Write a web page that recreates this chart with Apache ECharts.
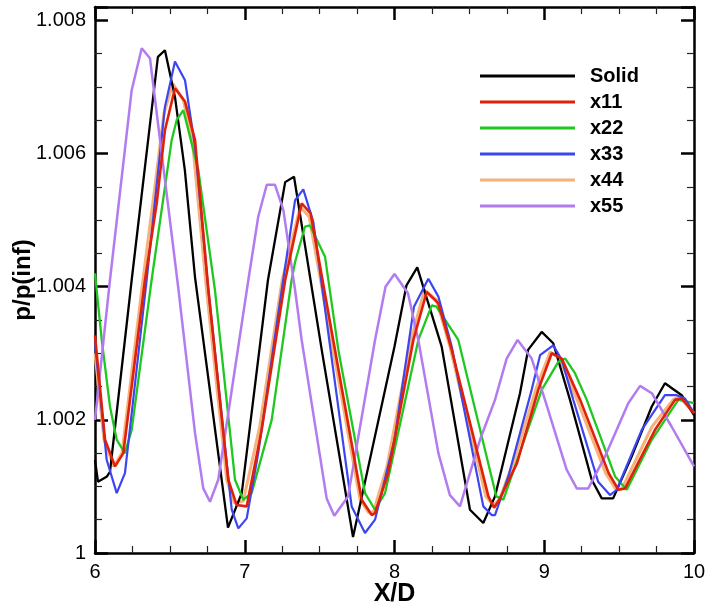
<!DOCTYPE html>
<html>
<head>
<meta charset="utf-8">
<script src="https://cdn.jsdelivr.net/npm/echarts@6/dist/echarts.min.js"></script>
<style>
html,body{margin:0;padding:0;background:#fff;}
#chart{width:708px;height:609px;}
</style>
</head>
<body>
<div id="chart"></div>
<script>
var seriesNames = ['Solid', 'x11', 'x22', 'x33', 'x44', 'x55'];
var xTicks = [6, 7, 8, 9, 10];
var yTicks = [1, 1.002, 1.004, 1.006, 1.008];

var solid = [[6.0,1.0014],[6.02,1.00107],[6.08,1.00115],[6.1,1.00122],[6.245,1.0041],[6.42,1.00745],[6.467,1.00755],[6.534,1.00685],[6.60,1.00575],[6.668,1.00414],[6.888,1.00038],[6.98,1.0009],[7.155,1.0041],[7.27,1.00557],[7.329,1.00565],[7.514,1.00305],[7.723,1.00024],[8.0,1.0031],[8.08,1.00402],[8.152,1.00429],[8.315,1.0031],[8.504,1.00065],[8.593,1.00045],[8.671,1.00085],[8.838,1.0024],[8.892,1.00305],[8.983,1.00332],[9.06,1.00315],[9.172,1.0023],[9.317,1.0011],[9.384,1.00082],[9.46,1.00082],[9.584,1.00145],[9.718,1.0022],[9.806,1.00255],[9.918,1.00237],[10.0,1.00207]];

var x11 = [[6.0,1.00327],[6.067,1.0017],[6.134,1.0013],[6.189,1.0015],[6.334,1.0041],[6.412,1.00525],[6.467,1.00635],[6.534,1.00698],[6.601,1.00678],[6.668,1.0062],[6.757,1.00395],[6.89,1.0011],[6.946,1.00072],[7.013,1.0007],[7.113,1.00185],[7.27,1.0041],[7.38,1.00525],[7.44,1.0051],[7.781,1.0008],[7.848,1.00057],[7.87,1.0006],[7.958,1.0012],[8.126,1.0032],[8.215,1.00392],[8.293,1.00375],[8.382,1.00305],[8.627,1.00085],[8.665,1.00068],[8.70,1.0008],[8.818,1.00135],[8.96,1.00245],[9.05,1.003],[9.117,1.00292],[9.24,1.0023],[9.43,1.0012],[9.495,1.00095],[9.54,1.00097],[9.74,1.00185],[9.873,1.0023],[9.918,1.00232],[10.0,1.0021]];

var x22 = [[6.0,1.0042],[6.045,1.0032],[6.1,1.0022],[6.145,1.0017],[6.2,1.0015],[6.245,1.00185],[6.378,1.0041],[6.512,1.0062],[6.545,1.0065],[6.59,1.00665],[6.69,1.00575],[6.801,1.00395],[6.935,1.0011],[6.99,1.0008],[7.046,1.0009],[7.18,1.002],[7.313,1.0041],[7.336,1.00437],[7.402,1.0049],[7.436,1.00492],[7.536,1.00445],[7.625,1.00305],[7.803,1.0009],[7.87,1.00065],[7.937,1.0009],[8.159,1.0032],[8.249,1.00372],[8.28,1.0037],[8.382,1.00335],[8.426,1.0032],[8.68,1.00085],[8.727,1.0008],[8.983,1.00245],[9.094,1.00287],[9.14,1.00292],[9.205,1.0027],[9.284,1.0023],[9.473,1.00115],[9.551,1.00095],[9.718,1.0017],[9.895,1.0023],[10.0,1.00225]];

var x33 = [[6.0,1.00315],[6.078,1.0014],[6.145,1.0009],[6.2,1.0012],[6.345,1.0041],[6.467,1.0067],[6.534,1.00738],[6.601,1.0071],[6.668,1.0061],[6.757,1.00395],[6.913,1.00065],[6.957,1.00037],[7.013,1.00052],[7.09,1.0015],[7.224,1.0036],[7.336,1.0053],[7.391,1.00546],[7.458,1.00497],[7.714,1.0007],[7.803,1.0003],[7.87,1.0005],[8.0,1.0017],[8.13,1.0037],[8.226,1.00412],[8.293,1.00385],[8.382,1.0031],[8.593,1.0007],[8.649,1.00057],[8.671,1.00057],[8.76,1.00115],[8.916,1.00245],[8.972,1.00297],[9.06,1.00312],[9.117,1.0029],[9.194,1.0023],[9.36,1.00107],[9.439,1.00087],[9.484,1.00095],[9.651,1.00185],[9.806,1.00237],[9.884,1.00237],[9.94,1.00232],[10.0,1.0021]];

var x44 = [[6.0,1.0030],[6.06,1.0017],[6.125,1.0013],[6.18,1.0015],[6.32,1.0041],[6.40,1.0055],[6.46,1.0066],[6.52,1.00705],[6.59,1.0068],[6.65,1.0062],[6.745,1.00395],[6.88,1.0011],[6.93,1.00075],[6.99,1.00078],[7.10,1.0019],[7.25,1.0041],[7.37,1.0052],[7.43,1.00505],[7.77,1.0008],[7.83,1.0006],[7.86,1.00062],[7.95,1.0013],[8.11,1.0032],[8.2,1.00395],[8.28,1.0038],[8.37,1.0031],[8.61,1.00085],[8.66,1.00072],[8.70,1.0008],[8.80,1.0014],[8.95,1.0025],[9.04,1.00302],[9.10,1.00293],[9.22,1.0023],[9.41,1.0012],[9.48,1.00095],[9.52,1.00097],[9.72,1.0019],[9.86,1.0023],[9.90,1.00235],[10.0,1.0021]];

var x55 = [[6.0,1.002],[6.1,1.0041],[6.245,1.00695],[6.312,1.00758],[6.367,1.00743],[6.555,1.004],[6.668,1.0018],[6.723,1.00097],[6.768,1.00077],[6.823,1.0011],[7.024,1.0041],[7.09,1.00505],[7.147,1.00553],[7.202,1.00553],[7.258,1.00515],[7.336,1.00395],[7.38,1.0032],[7.547,1.00082],[7.598,1.00056],[7.69,1.00085],[7.87,1.0032],[7.94,1.004],[8.0,1.00419],[8.09,1.0039],[8.159,1.0032],[8.293,1.0015],[8.37,1.00087],[8.437,1.0007],[8.571,1.0017],[8.671,1.0023],[8.749,1.00292],[8.822,1.0032],[8.916,1.00292],[9.005,1.0023],[9.15,1.00125],[9.217,1.00097],[9.294,1.00097],[9.406,1.00145],[9.561,1.00225],[9.64,1.00251],[9.718,1.0024],[9.85,1.0019],[10.0,1.0013]];

var seriesData = [solid, x11, x22, x33, x44, x55];
var colors = ['#000000', '#e0200a', '#1ec81e', '#3c46f0', '#f5b27a', '#b27cf0'];
var widths = [2.3, 2.6, 2.3, 2.2, 3, 2.5];
var zs = [3, 4, 3, 3, 2, 3];

var FONT = 'Liberation Sans, Arial, sans-serif';
var chart = echarts.init(document.getElementById('chart'), null, {renderer: 'canvas'});

function yFmt(v) {
  var k = (v - 1) / 0.002;
  if (Math.abs(k - Math.round(k)) > 1e-6) return '';
  var t = yTicks[Math.round(k)];
  return t === undefined ? '' : String(t);
}
function xFmt(v) {
  return xTicks.indexOf(Math.round(v)) >= 0 && Math.abs(v - Math.round(v)) < 1e-9 ? String(Math.round(v)) : '';
}

var tickCommon = {show: true, inside: true, length: 13, lineStyle: {color: '#000', width: 2.5}};
var minorCommon = {show: true, splitNumber: 4, length: 7, lineStyle: {color: '#222', width: 1.2}};
var lineCommon = {show: true, onZero: false, lineStyle: {color: '#000', width: 2.5}};

var option = {
  animation: false,
  backgroundColor: '#fff',
  grid: {left: 95, right: 14, top: 7, bottom: 56, containLabel: false, outerBoundsMode: 'none'},
  legend: {
    orient: 'vertical',
    left: 480,
    top: 66,
    padding: 0,
    icon: 'rect',
    itemWidth: 95,
    itemHeight: 3,
    itemGap: 6,
    data: seriesNames,
    textStyle: {fontFamily: FONT, fontWeight: 'bold', fontSize: 20, lineHeight: 20, color: '#000', padding: [0, 0, 0, 10]}
  },
  xAxis: [{
    type: 'value', min: 6, max: 10, interval: 1, position: 'bottom',
    axisLine: lineCommon, axisTick: tickCommon, minorTick: minorCommon,
    splitLine: {show: false},
    axisLabel: {formatter: xFmt, fontFamily: FONT, fontSize: 20, color: '#000', margin: 9},
    name: 'X/D', nameLocation: 'middle', nameGap: 29, nameMoveOverlap: false,
    nameTextStyle: {fontFamily: FONT, fontWeight: 'bold', fontSize: 25, color: '#000'}
  }, {
    type: 'value', min: 6, max: 10, interval: 1, position: 'top',
    axisLine: lineCommon, axisTick: tickCommon, minorTick: minorCommon,
    splitLine: {show: false}, axisLabel: {show: false}
  }],
  yAxis: [{
    type: 'value', min: 1, max: 1.0082, interval: 0.002, position: 'left',
    axisLine: lineCommon, axisTick: tickCommon, minorTick: minorCommon,
    splitLine: {show: false},
    axisLabel: {formatter: yFmt, fontFamily: FONT, fontSize: 20, color: '#000', margin: 9},
    name: 'p/p(inf)', nameLocation: 'middle', nameGap: 60, nameRotate: 90, nameMoveOverlap: false,
    nameTextStyle: {fontFamily: FONT, fontWeight: 'bold', fontSize: 24, color: '#000'}
  }, {
    type: 'value', min: 1, max: 1.0082, interval: 0.002, position: 'right',
    axisLine: lineCommon, axisTick: tickCommon, minorTick: minorCommon,
    splitLine: {show: false}, axisLabel: {show: false}
  }],
  series: seriesNames.map(function (n, i) {
    return {
      name: n, type: 'line', data: seriesData[i], xAxisIndex: 0, yAxisIndex: 0,
      symbol: 'none', smooth: false, z: zs[i],
      itemStyle: {color: colors[i]},
      lineStyle: {color: colors[i], width: widths[i]}
    };
  })
};
chart.setOption(option);
</script>
</body>
</html>
